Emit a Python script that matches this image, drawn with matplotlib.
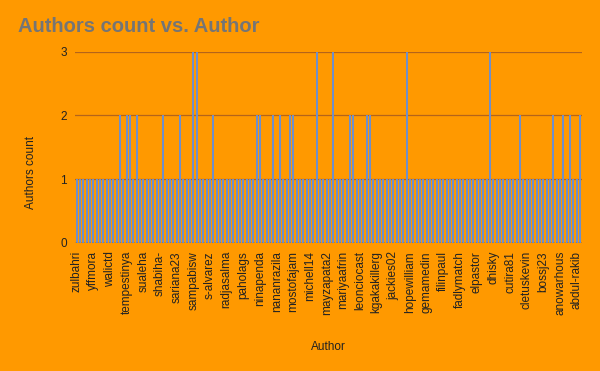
import matplotlib
matplotlib.use("Agg")
import matplotlib.pyplot as plt

plt.rcParams['font.family'] = ['Liberation Sans', 'DejaVu Sans']

# visible tick labels (every 5th author)
tick_labels = ["zulbahri", "yffmora", "walictd", "tempestinya", "sualeha", "shabiha-",
               "sariana23", "sampabisw", "s-alvarez", "radjasalma", "paholags", "ninapenda",
               "nananrazila", "mostofajam", "michell14", "mayzapata2", "mariyaafrin",
               "leonciocast", "kgakakillerg", "jackies02", "hopewilliam", "gemamedin",
               "filinpaul", "fadlymatch", "elpastor", "dhisky", "cutira81", "cletuskevin",
               "bossj23", "anowarhous", "abdul-rakib"]

# authors count per author (152 authors, reverse alphabetical order)
counts = [1, 1, 1, 1, 1, 1, 1, 1, 1, 1,   # 0-9
          1, 1, 1, 2, 1, 2, 2, 1, 2, 1,   # 10-19
          1, 1, 1, 1, 1, 1, 2, 1, 1, 1,   # 20-29
          1, 2, 1, 1, 1, 3, 3, 1, 1, 1,   # 30-39
          1, 2, 1, 1, 1, 1, 1, 1, 1, 1,   # 40-49
          1, 1, 1, 1, 2, 2, 1, 1, 1, 2,   # 50-59
          1, 2, 1, 1, 2, 2, 1, 1, 1, 1,   # 60-69
          1, 1, 3, 1, 1, 1, 1, 3, 1, 1,   # 70-79
          1, 1, 2, 2, 1, 1, 1, 2, 2, 1,   # 80-89
          1, 1, 1, 1, 1, 1, 1, 1, 1, 3,   # 90-99
          1, 1, 1, 1, 1, 1, 1, 1, 1, 1,   # 100-109
          1, 1, 1, 1, 1, 1, 1, 1, 1, 1,   # 110-119
          1, 1, 1, 1, 3, 1, 1, 1, 1, 1,   # 120-129
          1, 1, 1, 2, 1, 1, 1, 1, 1, 1,   # 130-139
          1, 1, 1, 2, 1, 1, 2, 1, 2, 1,   # 140-149
          1, 2]                           # 150-151

title = "Authors count vs. Author"
bg = "#FF9900"

fig = plt.figure(figsize=(6.0, 3.71), dpi=100, facecolor=bg)
ax = fig.add_axes([0.125, 0.3458, 0.8445, 0.5148], facecolor=bg)

x = list(range(len(counts)))
ax.bar(x, counts, width=0.62, color="#6f8fca", zorder=3)

ax.set_xlim(-0.5, len(counts) - 0.5)
ax.set_ylim(0, 3)
ax.set_yticks([0, 1, 2, 3])
ax.set_yticklabels(["0", "1", "2", "3"], fontsize=8.5, color="#222222")
ax.set_xticks(x[::5])
ax.set_xticklabels(tick_labels, rotation=90, fontsize=8.5, color="#222222")
ax.tick_params(axis='both', length=0)
ax.tick_params(axis='x', pad=6)
ax.tick_params(axis='y', pad=6)

for v in [1, 2, 3]:
    ax.axhline(v, color="#b4641a", linewidth=0.9, zorder=1)
ax.axhline(0, color="#333333", linewidth=1.0, linestyle=(0, (1, 1)), zorder=4)

for s in ax.spines.values():
    s.set_visible(False)

ax.set_ylabel("Authors count", fontsize=8.5, color="#222222")
ax.set_xlabel("Author", fontsize=8.5, color="#222222")
ax.xaxis.set_label_coords(0.5, -0.515)
ax.yaxis.set_label_coords(-0.075, 0.37)

fig.text(18 / 600, 1 - 26 / 371, title, fontsize=14.5, color="#757575",
         fontweight="bold", va="center", ha="left")

fig.savefig("out.png", dpi=100, facecolor=bg)
